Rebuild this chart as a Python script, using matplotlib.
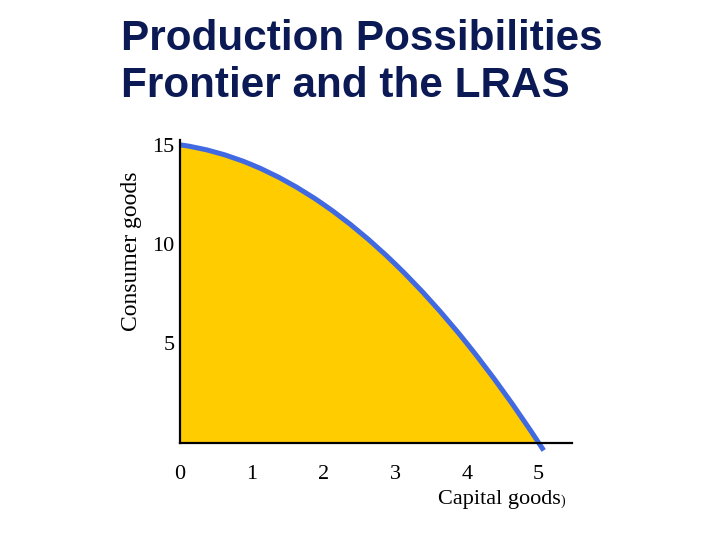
import numpy as np
import matplotlib.pyplot as plt
from matplotlib.path import Path
import matplotlib.patches as mpatches

capital = [0, 1, 2, 3, 4, 5]
consumer = [15, 14, 12, 9, 5, 0]
x_ticks = [0, 1, 2, 3, 4, 5]
y_ticks = [5, 10, 15]

fig = plt.figure(figsize=(7.2, 5.4), dpi=100)
fig.patch.set_facecolor("white")
ax = fig.add_axes([0.25, 0.18, 0.544, 0.561])

# smooth curve through the points (cubic Hermite as Bezier segments)
pts = np.column_stack([capital, consumer]).astype(float)
m = np.zeros_like(pts)
m[1:-1] = (pts[2:] - pts[:-2]) / 2
m[0] = (-3 * pts[0] + 4 * pts[1] - pts[2]) / 2
m[-1] = (3 * pts[-1] - 4 * pts[-2] + pts[-3]) / 2
verts = [tuple(pts[0])]
codes = [Path.MOVETO]
for i in range(len(pts) - 1):
    verts += [tuple(pts[i] + m[i] / 3), tuple(pts[i + 1] - m[i + 1] / 3),
              tuple(pts[i + 1])]
    codes += [Path.CURVE4] * 3
curve = Path(verts, codes)

fill_verts = verts + [(capital[-1], 0), (capital[0], 0), verts[0]]
fill_codes = codes + [Path.LINETO, Path.LINETO, Path.CLOSEPOLY]
ax.add_patch(mpatches.PathPatch(Path(fill_verts, fill_codes),
                                facecolor="#FFCC00", edgecolor="none", zorder=1))
ax.add_patch(mpatches.PathPatch(curve, facecolor="none", edgecolor="black",
                                lw=1.2, zorder=2))
ax.add_patch(mpatches.PathPatch(curve, facecolor="none", edgecolor="#4169E1",
                                lw=3.6, capstyle="butt", zorder=3))
# blue line runs slightly past the axis at the end
tail = pts[-1] + m[-1] * 0.07
ax.plot([pts[-1][0], tail[0]], [pts[-1][1], tail[1]], color="#4169E1",
        lw=3.6, solid_capstyle="butt", clip_on=False, zorder=3)

ax.set_xlim(0, 5.46)
ax.set_ylim(0, 15.25)
for s in ["top", "right"]:
    ax.spines[s].set_visible(False)
for s in ["left", "bottom"]:
    ax.spines[s].set_linewidth(1.6)
    ax.spines[s].set_zorder(4)

ax.set_xticks(x_ticks)
ax.set_yticks(y_ticks)
ax.tick_params(axis="x", length=0, pad=16)
ax.tick_params(axis="y", length=0, pad=4)
for lab in ax.get_xticklabels() + ax.get_yticklabels():
    lab.set_fontfamily("Liberation Serif")
    lab.set_fontsize(16)

fig.text(0.183, 0.535, "Consumer goods", fontfamily="Liberation Serif",
         fontsize=17, rotation=90, ha="center", va="center")
fig.text(0.609, 0.075, "Capital goods", fontfamily="Liberation Serif",
         fontsize=16, ha="left", va="center")
fig.text(0.779, 0.072, ")", fontfamily="Liberation Serif", fontsize=10,
         ha="left", va="center")

fig.text(0.168, 0.884, "Production Possibilities\nFrontier and the LRAS",
         fontfamily="Liberation Sans", fontweight="bold", fontsize=30.4,
         color="#0B1A55", ha="left", va="center", linespacing=1.24)

plt.savefig("out.png", dpi=100, facecolor="white")
